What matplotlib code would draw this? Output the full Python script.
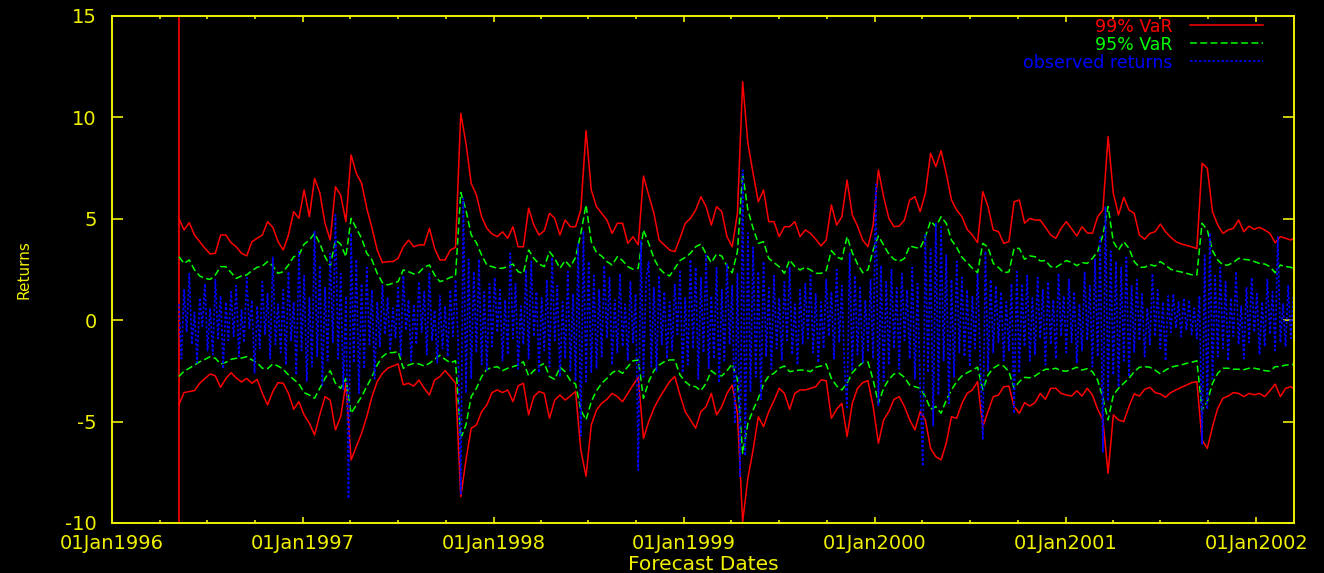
import pandas as pd
import matplotlib
matplotlib.use("Agg")
import matplotlib.pyplot as plt
import matplotlib.dates as mdates
from datetime import datetime

# forecast start, VaR bands sampled every 10 days, returns every 5 days
start = "1996-05-08"

var99_up = [
    5.02, 4.45, 4.81, 4.20, 3.87, 3.54, 3.27, 3.30, 4.20, 4.20,
    3.82, 3.62, 3.30, 3.17, 3.87, 4.04, 4.20, 4.86, 4.58, 3.87,
    3.46, 4.20, 5.35, 5.02, 6.42, 5.10, 6.99, 6.29, 4.78, 3.95,
    6.58, 6.17, 4.86, 8.15, 7.24, 6.75, 5.52, 4.53, 3.46, 2.84,
    2.89, 2.89, 3.05, 3.62, 3.95, 3.62, 3.71, 3.71, 4.53, 3.54,
    2.97, 2.97, 3.46, 3.59, 10.20, 8.72, 6.75, 6.17, 5.10, 4.53,
    4.25, 4.12, 4.36, 4.04, 4.61, 3.62, 3.62, 5.52, 4.69, 4.20,
    4.41, 5.27, 5.02, 4.20, 4.94, 4.61, 4.61, 5.43, 9.35, 6.42,
    5.60, 5.27, 4.94, 4.28, 4.78, 4.78, 3.79, 4.12, 3.71, 7.11,
    6.17, 5.27, 3.95, 3.71, 3.46, 3.38, 4.04, 4.78, 5.02, 5.43,
    6.09, 5.60, 4.69, 5.60, 5.35, 4.12, 3.62, 5.27, 11.76, 8.72,
    7.24, 5.84, 6.42, 4.86, 4.86, 4.12, 4.61, 4.61, 4.86, 4.12,
    4.45, 4.28, 3.99, 3.66, 3.95, 5.68, 4.69, 5.10, 6.91, 5.19,
    4.64, 3.95, 3.62, 4.69, 7.41, 6.09, 5.02, 4.61, 4.64, 4.94,
    5.93, 6.09, 5.35, 6.26, 8.23, 7.57, 8.36, 7.24, 5.93, 5.43,
    5.10, 4.48, 4.20, 3.82, 6.34, 5.60, 4.45, 4.37, 3.79, 3.87,
    5.84, 5.93, 4.78, 5.02, 4.94, 4.94, 4.58, 4.20, 4.04, 4.53,
    4.86, 4.51, 4.15, 4.61, 4.31, 4.28, 5.10, 5.43, 9.05, 6.26,
    5.19, 6.06, 5.43, 5.27, 4.20, 3.99, 4.28, 4.36, 4.74, 4.36,
    4.09, 3.87, 3.76, 3.69, 3.62, 3.53, 7.74, 7.49, 5.35, 4.69,
    4.28, 4.45, 4.53, 4.94, 4.36, 4.64, 4.48, 4.58, 4.45, 4.28,
    3.82, 4.12, 4.04, 3.95, 4.12,
]

var95_up = [
    3.13, 2.80, 2.97, 2.48, 2.18, 2.06, 2.01, 2.23, 2.64, 2.64,
    2.35, 2.06, 2.18, 2.23, 2.44, 2.61, 2.67, 2.89, 2.67, 2.31,
    2.39, 2.72, 3.13, 3.21, 3.75, 3.95, 4.28, 3.79, 3.13, 2.67,
    3.95, 3.75, 3.13, 5.02, 4.53, 4.04, 3.30, 2.97, 2.31, 1.85,
    1.74, 1.82, 1.90, 2.48, 2.39, 2.28, 2.35, 2.61, 2.72, 2.23,
    1.90, 1.98, 2.11, 2.18, 6.30, 5.43, 4.20, 3.82, 3.21, 2.72,
    2.64, 2.56, 2.56, 2.64, 2.77, 2.39, 2.31, 3.46, 3.05, 2.77,
    2.64, 3.38, 3.05, 2.56, 2.94, 2.64, 3.10, 4.28, 5.68, 3.87,
    3.33, 3.16, 2.89, 2.72, 3.13, 2.94, 2.64, 2.51, 2.56, 4.45,
    3.79, 3.05, 2.56, 2.31, 2.18, 2.56, 2.94, 3.10, 3.30, 3.62,
    3.75, 3.26, 2.84, 3.26, 3.16, 2.67, 2.34, 3.38, 7.24, 5.43,
    4.53, 3.79, 3.87, 3.05, 2.84, 2.64, 2.31, 2.97, 2.64, 2.48,
    2.61, 2.48, 2.31, 2.31, 2.44, 3.43, 3.13, 3.00, 4.12, 3.33,
    2.77, 2.34, 2.48, 3.46, 4.15, 3.71, 3.26, 3.00, 2.90, 3.05,
    3.66, 3.59, 3.54, 4.12, 4.89, 4.61, 5.10, 4.78, 3.95, 3.59,
    3.10, 2.84, 2.56, 2.34, 3.79, 3.60, 2.80, 2.60, 2.34, 2.38,
    3.54, 3.54, 3.00, 3.17, 3.13, 2.92, 2.94, 2.64, 2.61, 2.77,
    2.94, 2.85, 2.69, 2.84, 2.80, 3.05, 3.38, 4.20, 5.60, 3.87,
    3.46, 3.87, 3.54, 2.89, 2.61, 2.61, 2.74, 2.67, 2.89, 2.72,
    2.51, 2.43, 2.38, 2.31, 2.24, 2.23, 4.78, 4.45, 3.43, 2.97,
    2.72, 2.72, 2.85, 3.05, 3.00, 2.97, 2.89, 2.80, 2.77, 2.64,
    2.34, 2.72, 2.64, 2.61, 2.48,
]

var95_lo = [
    -2.78, -2.51, -2.37, -2.21, -2.05, -1.93, -1.80, -1.88, -2.16, -2.08,
    -1.93, -1.88, -1.87, -1.80, -1.96, -2.10, -2.37, -2.39, -2.16, -2.26,
    -2.42, -2.70, -2.92, -3.14, -3.57, -3.69, -3.85, -3.36, -2.87, -2.49,
    -3.11, -3.36, -2.87, -4.59, -4.18, -3.77, -3.28, -2.78, -2.21, -1.80,
    -1.60, -1.60, -1.55, -2.37, -2.21, -2.13, -2.16, -2.26, -2.13, -1.93,
    -1.73, -1.93, -2.10, -2.00, -5.83, -5.17, -3.77, -3.36, -2.78, -2.42,
    -2.34, -2.29, -2.49, -2.37, -2.29, -2.21, -2.05, -2.75, -2.49, -2.26,
    -2.13, -2.78, -2.92, -2.32, -2.54, -2.98, -3.15, -4.43, -4.92, -4.02,
    -3.48, -3.11, -2.87, -2.59, -2.46, -2.62, -2.29, -2.00, -1.96, -3.85,
    -3.03, -2.49, -2.21, -2.05, -1.96, -1.96, -2.70, -3.03, -3.24, -3.28,
    -3.48, -3.11, -2.49, -2.70, -2.75, -2.49, -2.16, -2.92, -6.56, -5.09,
    -4.43, -3.85, -3.15, -2.75, -2.62, -2.37, -2.26, -2.54, -2.49, -2.46,
    -2.46, -2.54, -2.32, -2.26, -2.16, -2.87, -3.24, -3.44, -3.11, -2.59,
    -2.32, -2.09, -2.05, -2.95, -4.10, -3.36, -2.92, -2.65, -2.62, -2.82,
    -3.20, -3.28, -3.36, -3.77, -4.39, -4.26, -4.59, -3.94, -3.44, -3.03,
    -2.75, -2.59, -2.46, -2.32, -3.44, -2.70, -2.37, -2.21, -2.26, -2.54,
    -3.36, -3.03, -2.82, -2.84, -2.75, -2.57, -2.42, -2.42, -2.37, -2.49,
    -2.52, -2.42, -2.32, -2.46, -2.39, -2.54, -2.95, -3.85, -4.92, -3.69,
    -3.36, -3.11, -2.87, -2.54, -2.32, -2.29, -2.32, -2.46, -2.65, -2.46,
    -2.32, -2.26, -2.21, -2.13, -2.08, -2.00, -4.43, -4.02, -3.11, -2.62,
    -2.37, -2.37, -2.42, -2.42, -2.44, -2.37, -2.37, -2.42, -2.49, -2.51,
    -2.29, -2.29, -2.21, -2.21, -2.13,
]

var99_lo = [
    -4.18, -3.57, -3.52, -3.47, -3.11, -2.88, -2.65, -2.75, -3.31, -2.88,
    -2.59, -2.85, -3.05, -2.87, -3.11, -2.92, -3.61, -4.18, -3.52, -3.08,
    -3.11, -3.61, -4.39, -4.02, -4.67, -5.08, -5.66, -4.67, -3.77, -3.94,
    -5.41, -4.76, -3.11, -6.89, -6.23, -5.58, -4.76, -3.77, -3.03, -2.62,
    -2.37, -2.26, -2.16, -3.19, -3.11, -3.25, -2.95, -3.36, -3.69, -2.95,
    -2.78, -2.49, -2.78, -3.11, -8.70, -6.89, -5.33, -5.17, -4.51, -4.18,
    -3.57, -3.44, -3.57, -3.44, -4.02, -3.24, -3.11, -4.67, -3.77, -3.52,
    -3.61, -4.84, -3.94, -3.69, -3.94, -3.74, -3.52, -6.40, -7.70, -5.17,
    -4.43, -4.10, -3.90, -3.61, -3.77, -4.02, -3.61, -3.20, -2.82, -5.83,
    -5.00, -4.35, -3.85, -3.44, -3.03, -2.78, -3.69, -4.51, -4.92, -5.33,
    -4.51, -4.26, -3.61, -4.67, -4.26, -3.61, -3.20, -4.59, -9.95, -7.80,
    -6.40, -4.76, -5.25, -4.51, -3.97, -3.36, -3.61, -4.39, -3.61, -3.44,
    -3.44, -3.36, -3.28, -2.95, -2.98, -4.84, -4.39, -4.10, -5.74, -4.10,
    -3.36, -3.08, -2.98, -4.26, -6.07, -4.92, -4.51, -3.90, -3.77, -4.26,
    -4.92, -5.41, -4.51, -4.92, -6.32, -6.73, -6.89, -6.07, -4.76, -4.84,
    -4.10, -3.61, -3.44, -3.03, -5.25, -4.50, -3.77, -3.69, -3.28, -3.25,
    -4.26, -4.59, -4.07, -4.23, -4.07, -3.61, -3.90, -3.36, -3.36, -3.61,
    -3.69, -3.74, -3.48, -3.74, -3.36, -3.69, -4.39, -4.92, -7.55, -4.67,
    -4.92, -5.00, -4.26, -3.64, -3.74, -3.41, -3.31, -3.57, -3.64, -3.80,
    -3.57, -3.44, -3.31, -3.20, -3.08, -3.03, -5.91, -6.32, -5.25, -4.35,
    -3.85, -3.74, -3.57, -3.61, -3.77, -3.61, -3.68, -3.61, -3.77, -3.48,
    -3.15, -3.77, -3.36, -3.28, -3.44,
]

returns = [
    0.8, -1.9, 1.5, -0.6, 2.3, -1.2, 0.4, -2.1, 1.1, -0.3, 1.8, -1.5, 0.6, -1.7, 2.0, -0.9, 1.2, -2.4, 0.9, -1.0,
    1.4, -0.8, 1.7, -1.8, 0.5, -1.1, 2.1, -0.4, 1.0, -2.6, 0.7, -1.4, 1.9, -0.7, 1.3, -1.9, 3.1, -1.2, 0.8, -1.6,
    1.5, -2.2, 2.4, -1.0, 0.9, -2.7, 3.4, -1.5, 2.2, -3.0, 1.1, -2.3, 4.4, -1.8, 2.7, -3.2, 1.6, -2.0, 3.3, -1.1,
    5.2, -1.9, 2.3, -3.4, 1.2, -8.8, 4.3, -2.1, 3.0, -3.6, 1.8, -2.4, 2.6, -1.2, 1.5, -2.9, 0.9, -1.3, 1.7, -0.7,
    1.1, -1.5, 0.6, -0.9, 1.6, -1.8, 2.2, -0.5, 1.0, -2.0, 0.8, -1.2, 1.9, -0.6, 1.4, -1.7, 2.3, -1.0, 0.5, -2.1,
    1.2, -1.4, 0.7, -1.8, 1.5, -0.8, 2.0, -1.1, -8.6, 6.0, -3.6, 3.0, -2.9, 2.4, -1.6, 3.0, -2.2, 1.4, -2.5, 1.8,
    -1.3, 2.1, -0.6, 1.5, -2.0, 1.0, -1.7, 3.3, -0.9, 1.8, -2.4, 0.7, -1.2, 2.5, -1.9, 2.9, -0.8, 1.4, -2.6, 1.1,
    -1.5, 2.0, -2.3, 3.1, -1.0, 1.7, -2.8, 0.9, -1.9, 2.4, -2.5, 1.3, -3.0, 3.8, -5.7, 4.4, -3.1, 2.9, -2.6, 2.2,
    -2.4, 1.5, -1.8, 2.7, -0.9, 2.1, -2.2, 1.0, -1.6, 2.3, -1.3, 0.8, -2.0, 1.9, -1.1, 1.3, -7.4, 3.9, -2.8, 2.0,
    2.9, -2.3, 1.6, -2.5, 2.2, -1.2, 1.4, -1.9, 0.9, -1.5, 1.8, -0.7, 2.4, -2.6, 1.1, -2.2, 3.0, -1.4, 2.6, -2.9,
    2.1, -1.6, 3.2, -2.4, 1.2, -1.9, 2.6, -3.1, 1.5, -2.0, 2.8, -1.2, 1.7, -5.1, 2.3, -7.7, 7.4, -6.7, 4.3, -3.5,
    3.6, -2.8, 2.4, -3.9, 2.9, -1.8, 1.6, -2.4, 2.2, -1.4, 1.1, -2.0, 1.9, -1.0, 2.6, -1.7, 0.8, -2.2, 1.5, -1.2,
    1.8, -0.9, 2.2, -1.6, 1.3, -2.1, 0.9, -1.4, 2.0, -0.8, 1.4, -1.9, 2.5, -1.1, 1.7, -2.3, -4.3, 3.3, -2.5, 2.2,
    -1.7, 1.6, -2.1, 1.0, -1.5, 2.0, -1.9, 6.7, -4.2, 2.7, -3.0, 1.9, -2.2, 2.5, -1.4, 1.6, -2.4, 2.3, -1.0, 1.5,
    -1.9, 2.6, -2.9, 1.8, -3.3, -7.2, 4.2, -2.6, 3.5, -5.2, 4.8, -3.7, 4.6, -2.0, 3.2, -4.1, 2.0, -2.8, 2.9, -1.6,
    2.1, -1.8, 1.5, -2.3, 1.2, -1.4, 2.3, -1.9, -5.9, 3.4, -2.5, 2.0, -1.6, 1.7, -1.1, 1.4, -2.0, 0.9, -1.5, 1.8,
    -4.6, 2.4, -2.6, 1.8, -1.3, 2.2, -2.0, 1.1, -1.7, 2.1, -0.9, 1.5, -2.2, 1.9, -1.2, 1.0, -1.9, 2.3, -0.8, 1.2,
    -1.6, 2.0, -1.1, 1.4, -2.1, 0.8, -1.5, 2.4, -1.0, 1.7, -2.3, 3.0, -1.8, 4.1, -6.5, 5.6, -4.0, 3.4, -2.7, 2.9,
    -3.3, 2.6, -2.0, 3.1, -2.8, 1.7, -1.6, 2.0, -1.0, 1.3, -1.8, 0.6, -1.2, 2.3, -0.8, 1.5, -1.4, 0.9, -2.0, 1.2,
    -0.6, 1.3, -0.4, 0.9, -0.8, 1.1, -0.5, 1.0, -0.7, 0.6, -0.9, 1.2, -6.1, 3.2, -4.4, 4.3, -2.9, 2.2, -1.8, 2.6,
    -1.4, 1.9, -2.0, 1.1, -0.8, 2.4, -1.2, 0.7, -1.9, 1.6, -1.1, 2.1, -0.6, 1.3, -1.7, 0.9, -1.3, 2.0, -0.7, 1.4,
    -1.5, 4.1, -1.1, 0.8, -1.3, 1.7, -0.9, 1.2, -0.6,
]

var_dates = pd.date_range(start, periods=len(var99_up), freq="10D")
ret_dates = pd.date_range(start, periods=len(returns), freq="5D")

yellow = "#F0F000"
plt.rcParams["font.family"] = ["DejaVu Sans"]
plt.rcParams["axes.unicode_minus"] = False

fig = plt.figure(figsize=(13.24, 5.73), dpi=100, facecolor="black")
ax = fig.add_axes([0.0846, 0.0873, 0.8927, 0.8848])
ax.set_facecolor("black")

ax.axvline(pd.Timestamp(start), color="red", lw=1.2)
ax.plot(var_dates, var99_up, color="red", lw=1.1, label="99% VaR")
ax.plot(var_dates, var99_lo, color="red", lw=1.1)
ax.plot(var_dates, var95_up, color="#00ff00", lw=1.1, dashes=(4.5, 2.2), label="95% VaR")
ax.plot(var_dates, var95_lo, color="#00ff00", lw=1.1, dashes=(4.5, 2.2))
ax.plot(ret_dates, returns, color="#0000ff", lw=1.2, dashes=(1.5, 1.2), label="observed returns")

ax.set_xlim(datetime(1996, 1, 1), datetime(2002, 3, 14))
ax.set_ylim(-10, 15)
ax.xaxis.set_major_locator(mdates.YearLocator())
ax.xaxis.set_major_formatter(mdates.DateFormatter("%d%b%Y"))
ax.xaxis.set_minor_locator(mdates.MonthLocator(bymonth=[4, 7, 10]))
ax.set_yticks(range(-10, 16, 5))

ax.tick_params(axis="both", which="both", direction="in", colors=yellow,
               top=True, right=True, labelsize=14, width=1.2)
ax.tick_params(axis="x", which="major", length=4.5, pad=8)
ax.tick_params(axis="x", which="minor", length=2)
ax.tick_params(axis="y", which="major", length=7.7, pad=11)
for sp in ax.spines.values():
    sp.set_color(yellow)
    sp.set_linewidth(1.4)

ax.set_xlabel("Forecast Dates", color=yellow, fontsize=14.5)
ax.xaxis.set_label_coords(0.5, -0.064)
ax.set_ylabel("Returns", color=yellow, fontsize=11)
ax.yaxis.set_label_coords(-0.068, 0.5)

ax.legend(loc="upper right", bbox_to_anchor=(0.9738, 0.997), frameon=False,
          markerfirst=False, fontsize=12.5, handlelength=4.2, handletextpad=1.0,
          labelspacing=0.0, borderpad=0, borderaxespad=0, labelcolor="linecolor")

fig.savefig("out.png", dpi=100, facecolor="black")
